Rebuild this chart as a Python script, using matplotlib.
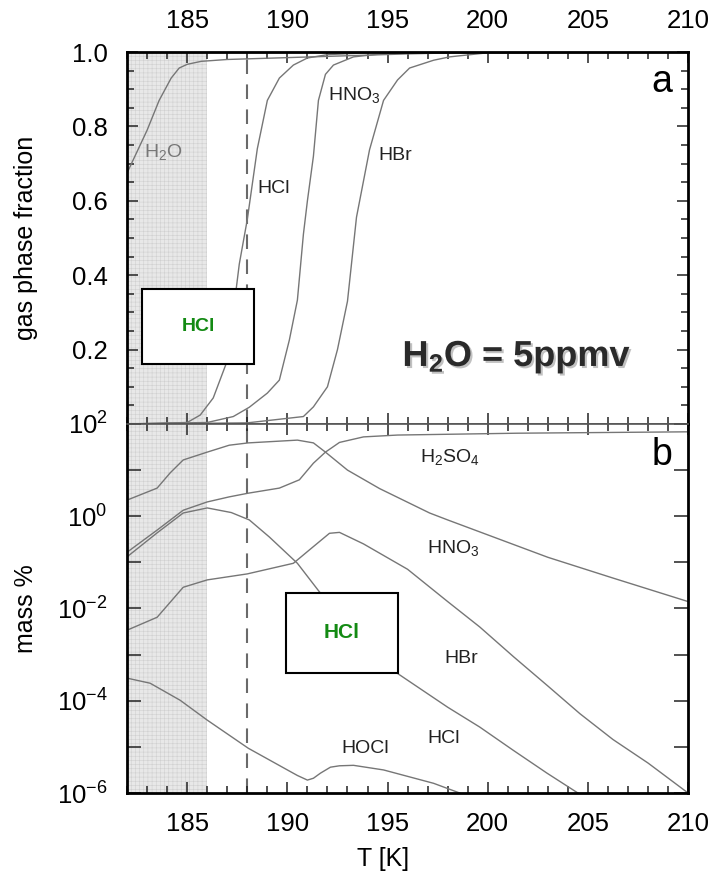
import numpy as np
import matplotlib
matplotlib.use("Agg")
import matplotlib.pyplot as plt
from matplotlib.ticker import MultipleLocator, FixedLocator, FuncFormatter, NullLocator
from matplotlib.patches import Rectangle
import matplotlib.patheffects as pe

plt.rcParams['font.family'] = ['Liberation Sans', 'DejaVu Sans']
plt.rcParams['mathtext.fontset'] = 'custom'
plt.rcParams['mathtext.rm'] = 'Liberation Sans'
plt.rcParams['mathtext.it'] = 'Liberation Sans:italic'
plt.rcParams['mathtext.bf'] = 'Liberation Sans:bold'
plt.rcParams['hatch.linewidth'] = 0.4

# --- panel a: fraction in gas phase ---
t_h2o = [182, 183, 183.6, 184.2, 184.6, 185, 185.7, 187, 190, 193, 196, 200, 210]
g_h2o = [0.675, 0.79, 0.87, 0.93, 0.957, 0.967, 0.975, 0.98, 0.985, 0.99, 0.995, 1.0, 1.0]

t_hcl = [182, 185, 185.65, 186.3, 187, 187.3, 187.6, 188, 188.5, 189, 189.6, 190.3, 191, 192, 194, 210]
g_hcl = [0, 0.004, 0.024, 0.07, 0.17, 0.30, 0.43, 0.55, 0.74, 0.87, 0.93, 0.965, 0.984, 0.993, 0.998, 1.0]

t_hno3 = [182, 186, 187.3, 188.1, 189, 189.6, 190.1, 190.5, 190.8, 191.0, 191.3, 191.55, 191.9, 192.3, 193.3, 195, 210]
g_hno3 = [0, 0.004, 0.02, 0.045, 0.083, 0.118, 0.226, 0.333, 0.51, 0.6, 0.72, 0.87, 0.94, 0.965, 0.987, 0.997, 1.0]

t_hbr = [182, 188, 190.8, 191.3, 192, 192.5, 193, 193.45, 194.1, 194.8, 195.5, 196.1, 197.3, 198.1, 200, 210]
g_hbr = [0, 0.003, 0.02, 0.046, 0.1, 0.2, 0.33, 0.556, 0.737, 0.87, 0.925, 0.957, 0.978, 0.987, 0.998, 1.0]

# --- panel b: mass % in the particles (log10) ---
tb_hno3 = [182, 183.5, 184.15, 184.8, 186, 187.1, 188.05, 190.5, 191.3, 191.9, 193, 194.6, 197.1, 198, 203, 206.25, 210]
lb_hno3 = [0.35, 0.61, 0.94, 1.22, 1.39, 1.54, 1.59, 1.65, 1.59, 1.39, 1.0, 0.6, 0.07, -0.08, -0.89, -1.34, -1.85]

tb_h2so4 = [182, 183.5, 184.8, 186, 187.1, 188.05, 189.6, 190.6, 191.3, 191.9, 192.6, 193.8, 195.5, 201.5, 210]
lb_h2so4 = [-0.78, -0.3, 0.13, 0.31, 0.42, 0.5, 0.61, 0.79, 1.15, 1.39, 1.6, 1.72, 1.76, 1.8, 1.83]

tb_hcl = [182, 183.5, 184.8, 186, 187.2, 188.1, 189.1, 190.5, 191.6, 193.5, 195.47, 198, 199.6, 201.26, 202.96, 204.5]
lb_hcl = [-0.88, -0.36, 0.07, 0.18, 0.08, -0.08, -0.45, -1.02, -1.64, -2.55, -3.4, -4.14, -4.57, -5.07, -5.57, -6.0]

tb_hbr = [182, 183.5, 184.8, 186, 188, 190.3, 191.1, 192.1, 192.6, 193.8, 194.6, 196, 198, 199.6, 201.3, 203, 204.6, 206.25, 208, 209.6, 210]
lb_hbr = [-2.47, -2.19, -1.54, -1.38, -1.25, -1.02, -0.73, -0.37, -0.35, -0.6, -0.8, -1.15, -1.85, -2.4, -3.05, -3.68, -4.28, -4.84, -5.35, -5.87, -6.0]

tb_hocl = [182, 183.15, 184.65, 186, 188.05, 190, 190.5, 191, 191.3, 191.65, 192.15, 192.6, 193.3, 194.8, 197.3, 198.6]
lb_hocl = [-3.51, -3.62, -3.99, -4.42, -5.03, -5.5, -5.62, -5.72, -5.68, -5.57, -5.44, -5.41, -5.4, -5.5, -5.79, -6.0]

ice_region = (182, 186)
t_dashed = 188

linea = dict(color='#767676', lw=1.0)

fig = plt.figure(figsize=(7.14, 8.82), dpi=100)
ax1 = fig.add_axes([0.178, 0.5193, 0.7857, 0.4217])
ax2 = fig.add_axes([0.178, 0.1009, 0.7857, 0.4184])

for ax in (ax1, ax2):
    ax.axvspan(*ice_region, facecolor='#e8e8e8', edgecolor='#d0d0d0', hatch='++++', lw=0, zorder=0)
    ax.axvline(t_dashed, color='#6a6a6a', lw=1.5, dashes=(7, 5), zorder=1)
    ax.set_xlim(182, 210)
    ax.xaxis.set_major_locator(MultipleLocator(5))
    ax.xaxis.set_minor_locator(MultipleLocator(1))
    ax.tick_params(which='both', direction='in', top=True, right=True, width=1.1,
                   labelsize=18.5, pad=14, color='#222222')
    ax.tick_params(which='major', length=8)
    ax.tick_params(which='minor', length=5)
    for s in ax.spines.values():
        s.set_linewidth(2)

# bordes entre paneles mas finos
ax1.spines['bottom'].set_linewidth(1.2)
ax1.spines['bottom'].set_color('#555555')
ax2.spines['top'].set_linewidth(1.2)
ax2.spines['top'].set_color('#555555')

# panel a
ax1.plot(t_h2o, g_h2o, **linea)
ax1.plot(t_hcl, g_hcl, **linea)
ax1.plot(t_hno3, g_hno3, **linea)
ax1.plot(t_hbr, g_hbr, **linea)
ax1.set_ylim(0, 1.0)
ax1.yaxis.set_major_locator(FixedLocator([0.2, 0.4, 0.6, 0.8, 1.0]))
ax1.yaxis.set_minor_locator(MultipleLocator(0.05))
ax1.yaxis.set_major_formatter(FuncFormatter(lambda v, p: f'{v:.1f}'))
ax1.tick_params(axis='x', labeltop=True, labelbottom=False)
ax1.set_ylabel('gas phase fraction', fontsize=18)
ax1.yaxis.set_label_coords(-0.158, 0.5)

ax1.text(183.8, 0.73, r'H$_2$O', fontsize=14, color='#777777', ha='center', va='center')
ax1.text(189.3, 0.634, 'HCl', fontsize=14, color='#222222', ha='center', va='center')
ax1.text(193.35, 0.884, r'HNO$_3$', fontsize=14, color='#222222', ha='center', va='center')
ax1.text(195.37, 0.723, 'HBr', fontsize=14, color='#222222', ha='center', va='center')
ax1.text(0.954, 0.919, 'a', transform=ax1.transAxes, fontsize=27, ha='center', va='center')
ax1.text(0.695, 0.18, r'H$_\mathbf{2}$O = 5ppmv', transform=ax1.transAxes, fontsize=26,
         fontweight='bold', color='#2a2a2a', ha='center', va='center',
         path_effects=[pe.withSimplePatchShadow(offset=(1.5, -1.5), shadow_rgbFace='#999999', alpha=0.6)])

# panel b
for tt, ll in [(tb_hno3, lb_hno3), (tb_h2so4, lb_h2so4), (tb_hcl, lb_hcl),
               (tb_hbr, lb_hbr), (tb_hocl, lb_hocl)]:
    ax2.plot(tt, 10.0 ** np.array(ll), **linea)
ax2.set_yscale('log')
ax2.set_ylim(1e-6, 1e2)
ax2.yaxis.set_major_locator(FixedLocator([10.0 ** e for e in range(-6, 3)]))
ax2.yaxis.set_minor_locator(NullLocator())
ax2.yaxis.set_major_formatter(FuncFormatter(
    lambda v, p: (r'$\mathdefault{10^{%d}}$' % round(np.log10(v))) if round(np.log10(v)) % 2 == 0 else ''))
ax2.tick_params(axis='y', which='major', length=10)
ax2.set_ylabel('mass %', fontsize=18)
ax2.yaxis.set_label_coords(-0.158, 0.5)
ax2.set_xlabel('T [K]', fontsize=18)
ax2.xaxis.set_label_coords(0.456, -0.146)

ax2.text(198.1, 10 ** 1.28, r'H$_2$SO$_4$', fontsize=14, color='#222222', ha='center', va='center')
ax2.text(198.27, 10 ** -0.69, r'HNO$_3$', fontsize=14, color='#222222', ha='center', va='center')
ax2.text(198.67, 10 ** -3.08, 'HBr', fontsize=14, color='#222222', ha='center', va='center')
ax2.text(197.8, 10 ** -4.81, 'HCl', fontsize=14, color='#222222', ha='center', va='center')
ax2.text(193.9, 10 ** -5.03, 'HOCl', fontsize=14, color='#222222', ha='center', va='center')
ax2.text(0.954, 0.916, 'b', transform=ax2.transAxes, fontsize=27, ha='center', va='center')

# recuadros con etiqueta verde
for (x0, y0, w, h, fs) in [(0.1989, 0.5873, 0.157, 0.085, 14), (0.4006, 0.2370, 0.157, 0.0907, 15)]:
    fig.add_artist(Rectangle((x0, y0), w, h, transform=fig.transFigure, facecolor='white',
                             edgecolor='black', lw=1.5, zorder=10))
    fig.text(x0 + w / 2, y0 + h / 2, 'HCl', color='#138a13', fontsize=fs, fontweight='bold',
             ha='center', va='center', zorder=11)

fig.savefig('out.png', dpi=100)
